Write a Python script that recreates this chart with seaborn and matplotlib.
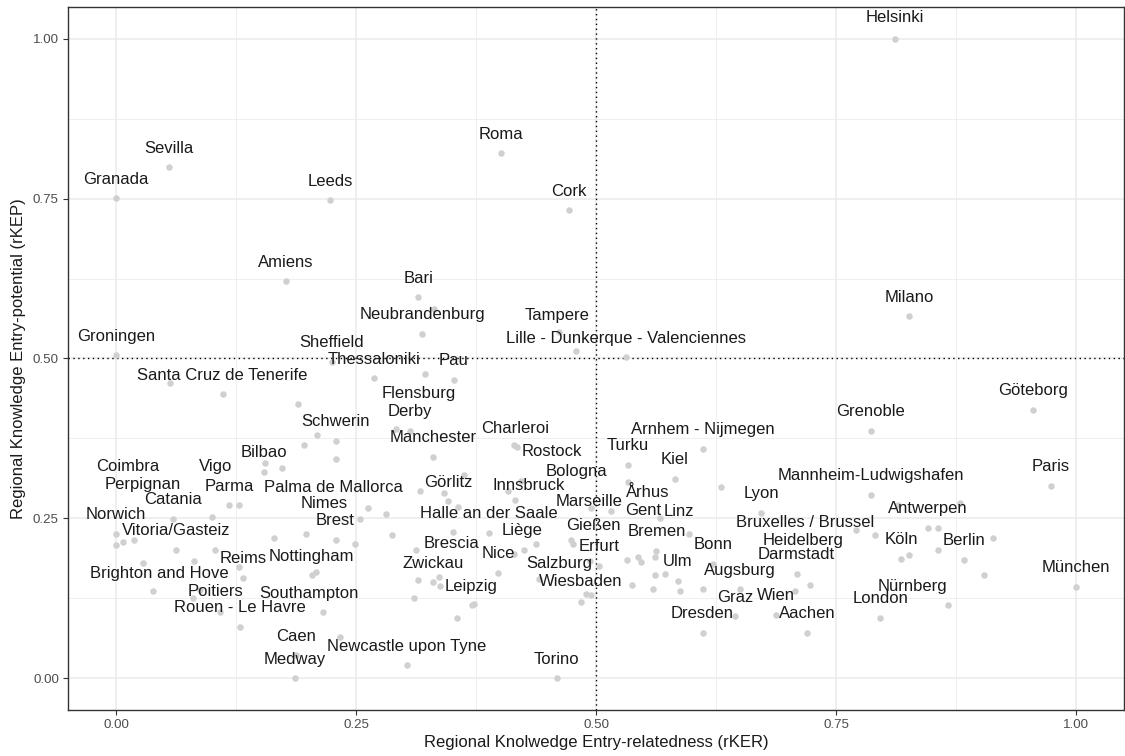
import numpy as np
import pandas as pd
import matplotlib
matplotlib.use("Agg")
import matplotlib.pyplot as plt
import seaborn as sns

# Regions with a label: name, rKER, rKEP
labelled_names = [
    "Helsinki", "Roma", "Sevilla", "Granada", "Leeds", "Cork", "Amiens", "Bari",
    "Milano", "Neubrandenburg", "Tampere", "Lille - Dunkerque - Valenciennes",
    "Groningen", "Sheffield", "Thessaloniki", "Pau", "Santa Cruz de Tenerife",
    "Flensburg", "Derby", "Schwerin", "Manchester", "Charleroi", "Rostock",
    "Turku", "Arnhem - Nijmegen", "Kiel", "Bologna", "Innsbruck", "Marseille",
    "Halle an der Saale", "Gießen", "Erfurt", "Salzburg", "Wiesbaden", "Liège",
    "Nice", "Brescia", "Zwickau", "Leipzig", "Görlitz", "Palma de Mallorca",
    "Nimes", "Brest", "Bilbao", "Vigo", "Parma", "Coimbra", "Perpignan",
    "Catania", "Norwich", "Vitoria/Gasteiz", "Reims", "Brighton and Hove",
    "Poitiers", "Rouen - Le Havre", "Nottingham", "Southampton", "Caen",
    "Medway", "Newcastle upon Tyne", "Torino", "Grenoble", "Göteborg", "Paris",
    "Mannheim-Ludwigshafen", "Lyon", "Antwerpen", "Bruxelles / Brussel",
    "Heidelberg", "Darmstadt", "Köln", "Berlin", "München", "Nürnberg",
    "London", "Bonn", "Augsburg", "Graz", "Wien", "Aachen", "Dresden", "Ulm",
    "Bremen", "Gent", "Linz", "Århus",
]
labelled_rker = [
    0.811, 0.401, 0.055, 0.000, 0.223, 0.472, 0.177, 0.315,
    0.826, 0.319, 0.461, 0.531,
    0.000, 0.225, 0.269, 0.352, 0.111,
    0.322, 0.306, 0.229, 0.330, 0.415, 0.422,
    0.533, 0.611, 0.582, 0.495, 0.408, 0.516,
    0.416, 0.474, 0.503, 0.441, 0.490, 0.437,
    0.398, 0.351, 0.330, 0.373, 0.346, 0.262,
    0.198, 0.254, 0.154, 0.118, 0.128, 0.007, 0.100,
    0.059, 0.000, 0.063, 0.132, 0.039,
    0.108, 0.129, 0.204, 0.216, 0.188,
    0.186, 0.303, 0.459, 0.786, 0.955, 0.974,
    0.786, 0.672, 0.846, 0.771,
    0.791, 0.709, 0.818, 0.883, 1.000, 0.867,
    0.796, 0.622, 0.650, 0.645, 0.687, 0.720, 0.611, 0.585,
    0.563, 0.567, 0.597, 0.533,
]
labelled_rkep = [
    1.000, 0.821, 0.799, 0.751, 0.748, 0.732, 0.621, 0.596,
    0.566, 0.539, 0.541, 0.502,
    0.505, 0.495, 0.469, 0.467, 0.444,
    0.475, 0.387, 0.371, 0.346, 0.365, 0.309,
    0.334, 0.359, 0.312, 0.266, 0.292, 0.262,
    0.279, 0.216, 0.176, 0.155, 0.132, 0.210,
    0.165, 0.229, 0.150, 0.116, 0.277, 0.266,
    0.226, 0.249, 0.323, 0.271, 0.270, 0.213, 0.252,
    0.249, 0.226, 0.201, 0.157, 0.136,
    0.103, 0.080, 0.161, 0.103, 0.036,
    0.000, 0.020, 0.000, 0.387, 0.420, 0.301,
    0.287, 0.259, 0.235, 0.232,
    0.224, 0.163, 0.187, 0.185, 0.143, 0.114,
    0.094, 0.179, 0.139, 0.097, 0.099, 0.071, 0.071, 0.152,
    0.199, 0.251, 0.226, 0.307,
]

# Regions drawn without a label
other_rker = [
    0.056, 0.190, 0.209, 0.196, 0.229, 0.173, 0.155, 0.292, 0.418, 0.362,
    0.317, 0.342, 0.356, 0.281, 0.479, 0.331, 0.000, 0.019, 0.103, 0.081,
    0.028, 0.088, 0.080, 0.165, 0.229, 0.249, 0.208, 0.233, 0.288, 0.389,
    0.312, 0.425, 0.415, 0.315, 0.337, 0.336, 0.310, 0.371, 0.355, 0.476,
    0.494, 0.495, 0.484, 0.532, 0.544, 0.547, 0.561, 0.538, 0.561, 0.572,
    0.559, 0.587, 0.611, 0.630, 0.723, 0.707, 0.815, 0.879, 0.856, 0.914,
    0.856, 0.826, 0.904, 0.128,
]
other_rkep = [
    0.461, 0.429, 0.381, 0.364, 0.343, 0.328, 0.337, 0.389, 0.361, 0.318,
    0.292, 0.290, 0.268, 0.257, 0.511, 0.577, 0.208, 0.216, 0.201, 0.183,
    0.180, 0.138, 0.125, 0.219, 0.216, 0.210, 0.166, 0.064, 0.224, 0.227,
    0.201, 0.201, 0.194, 0.154, 0.144, 0.158, 0.125, 0.114, 0.094, 0.210,
    0.183, 0.130, 0.119, 0.185, 0.190, 0.182, 0.190, 0.146, 0.161, 0.163,
    0.140, 0.136, 0.139, 0.299, 0.146, 0.136, 0.271, 0.274, 0.235, 0.219,
    0.201, 0.193, 0.161, 0.174,
]

# label shifts (pixels) where the repelled label is not just above its point
default_shift = (0, 19)
label_shift = {
    "Helsinki": (0, 21), "Flensburg": (-6, -19), "Charleroi": (1, 16),
    "Rostock": (31, 29), "Bologna": (-15, 37), "Innsbruck": (21, 6),
    "Marseille": (-22, 9), "Halle an der Saale": (-27, -14), "Gießen": (22, 15),
    "Salzburg": (20, 15), "Wiesbaden": (-6, 12), "Liège": (-13, 13),
    "Brescia": (-1, -12), "Leipzig": (-3, 17), "Palma de Mallorca": (-34, 21),
    "Nimes": (18, 30), "Brest": (-25, -2), "Vigo": (-14, 38), "Parma": (-10, 19),
    "Coimbra": (5, 75), "Perpignan": (-69, 32), "Brighton and Hove": (6, 18),
    "Poitiers": (-4, 21), "Southampton": (-14, 19), "Tampere": (-1, 17),
    "Bruxelles / Brussel": (-51, 7), "Heidelberg": (-72, -6),
    "Nürnberg": (-36, 19), "Gent": (-17, 7), "Linz": (-10, 22),
    "Århus": (20, -11),
}

df = pd.DataFrame({
    "rKER": labelled_rker + other_rker,
    "rKEP": labelled_rkep + other_rkep,
})

sns.set_theme(style="white")
plt.rcParams["font.family"] = ["Liberation Sans", "DejaVu Sans"]

fig = plt.figure(figsize=(11.25, 7.56), dpi=100)
ax = fig.add_axes([68 / 1125, 46 / 756, (1124 - 68) / 1125, (710 - 7) / 756])

sns.scatterplot(data=df, x="rKER", y="rKEP", ax=ax, color="#d0d0d0",
                s=22, linewidth=0, zorder=3)

for name, x, y in zip(labelled_names, labelled_rker, labelled_rkep):
    dx, dy = label_shift.get(name, default_shift)
    ax.annotate(name, (x, y), xytext=(dx, dy), textcoords="offset pixels",
                ha="center", va="center", fontsize=12, color="#1a1a1a", zorder=4)

ax.axvline(0.5, color="black", linestyle=(0, (1, 2.5)), linewidth=1, zorder=2)
ax.axhline(0.5, color="black", linestyle=(0, (1, 2.5)), linewidth=1, zorder=2)

ticks = [0, 0.25, 0.5, 0.75, 1.0]
tick_labels = ["0.00", "0.25", "0.50", "0.75", "1.00"]
ax.set_xlim(-0.05, 1.05)
ax.set_ylim(-0.05, 1.05)
ax.set_xticks(ticks)
ax.set_xticklabels(tick_labels)
ax.set_yticks(ticks)
ax.set_yticklabels(tick_labels)
ax.set_xticks(np.arange(0.125, 1.0, 0.25), minor=True)
ax.set_yticks(np.arange(0.125, 1.0, 0.25), minor=True)
ax.grid(True, which="major", color="#ebebeb", linewidth=1.1, zorder=0)
ax.grid(True, which="minor", color="#ebebeb", linewidth=0.55, zorder=0)
ax.set_axisbelow(True)

ax.tick_params(axis="both", which="major", length=3.5, width=0.8, color="#333333",
               labelsize=9.6, labelcolor="#4d4d4d", direction="out",
               bottom=True, left=True, pad=3)
ax.tick_params(axis="both", which="minor", length=0)
for sp in ax.spines.values():
    sp.set_color("#333333")
    sp.set_linewidth(1.0)

ax.set_xlabel("Regional Knolwedge Entry-relatedness (rKER)", fontsize=12,
              color="#1a1a1a", labelpad=3)
ax.set_ylabel("Regional Knowledge Entry-potential (rKEP)", fontsize=12,
              color="#1a1a1a", labelpad=5)

fig.savefig("out.png", dpi=100)
